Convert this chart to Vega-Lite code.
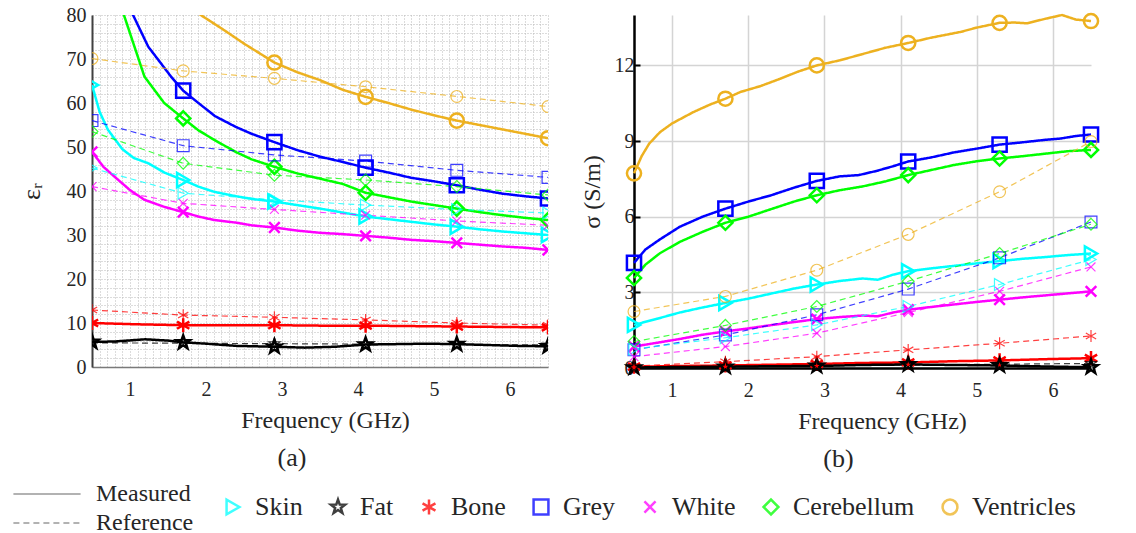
{
  "$schema": "https://vega.github.io/schema/vega-lite/v6.json",
  "padding": {"left": 18, "top": 5, "right": 5, "bottom": 5},
  "background": "white",
  "config": {
    "font": "Liberation Serif",
    "view": {"stroke": null},
    "axis": {"labelFont": "Liberation Serif", "titleFont": "Liberation Serif", "labelFontSize": 20, "titleFontSize": 24, "labelColor": "#262626", "titleColor": "#262626", "titleFontWeight": "normal"},
    "legend": {"labelFont": "Liberation Serif", "labelFontSize": 24, "labelColor": "#262626"},
    "title": {"font": "Liberation Serif"}
  },
  "datasets": {
    "perm": [
      {"tissue":"Ventricles","type":"Measured","f":0.5,"v":135},{"tissue":"Ventricles","type":"Measured","f":0.8,"v":115},{"tissue":"Ventricles","type":"Measured","f":1.1,"v":100},{"tissue":"Ventricles","type":"Measured","f":1.4,"v":90},{"tissue":"Ventricles","type":"Measured","f":1.7,"v":84},{"tissue":"Ventricles","type":"Measured","f":1.93,"v":80},{"tissue":"Ventricles","type":"Measured","f":2.2,"v":77},{"tissue":"Ventricles","type":"Measured","f":2.5,"v":73.5},{"tissue":"Ventricles","type":"Measured","f":2.9,"v":69.2},{"tissue":"Ventricles","type":"Measured","f":3.2,"v":67},{"tissue":"Ventricles","type":"Measured","f":3.5,"v":65.2},{"tissue":"Ventricles","type":"Measured","f":3.8,"v":63},{"tissue":"Ventricles","type":"Measured","f":4.1,"v":61.4},{"tissue":"Ventricles","type":"Measured","f":4.4,"v":60},{"tissue":"Ventricles","type":"Measured","f":4.7,"v":58.5},{"tissue":"Ventricles","type":"Measured","f":5.0,"v":57.2},{"tissue":"Ventricles","type":"Measured","f":5.3,"v":56},{"tissue":"Ventricles","type":"Measured","f":5.6,"v":55},{"tissue":"Ventricles","type":"Measured","f":5.9,"v":54},{"tissue":"Ventricles","type":"Measured","f":6.2,"v":53},{"tissue":"Ventricles","type":"Measured","f":6.5,"v":52},
      {"tissue":"Grey","type":"Measured","f":0.5,"v":115},{"tissue":"Grey","type":"Measured","f":0.7,"v":100},{"tissue":"Grey","type":"Measured","f":0.9,"v":86},{"tissue":"Grey","type":"Measured","f":1.04,"v":80},{"tissue":"Grey","type":"Measured","f":1.24,"v":72.8},{"tissue":"Grey","type":"Measured","f":1.54,"v":66},{"tissue":"Grey","type":"Measured","f":1.7,"v":62.8},{"tissue":"Grey","type":"Measured","f":1.9,"v":60},{"tissue":"Grey","type":"Measured","f":2.12,"v":57},{"tissue":"Grey","type":"Measured","f":2.4,"v":54.5},{"tissue":"Grey","type":"Measured","f":2.6,"v":53},{"tissue":"Grey","type":"Measured","f":2.9,"v":51.1},{"tissue":"Grey","type":"Measured","f":3.2,"v":49.3},{"tissue":"Grey","type":"Measured","f":3.5,"v":47.8},{"tissue":"Grey","type":"Measured","f":3.8,"v":46.6},{"tissue":"Grey","type":"Measured","f":4.1,"v":45.3},{"tissue":"Grey","type":"Measured","f":4.4,"v":44.2},{"tissue":"Grey","type":"Measured","f":4.7,"v":43},{"tissue":"Grey","type":"Measured","f":5.0,"v":42.2},{"tissue":"Grey","type":"Measured","f":5.3,"v":41.3},{"tissue":"Grey","type":"Measured","f":5.6,"v":40.3},{"tissue":"Grey","type":"Measured","f":5.9,"v":39.4},{"tissue":"Grey","type":"Measured","f":6.2,"v":38.8},{"tissue":"Grey","type":"Measured","f":6.5,"v":38.3},
      {"tissue":"Cerebellum","type":"Measured","f":0.5,"v":110},{"tissue":"Cerebellum","type":"Measured","f":0.7,"v":95},{"tissue":"Cerebellum","type":"Measured","f":0.92,"v":80},{"tissue":"Cerebellum","type":"Measured","f":1.19,"v":66},{"tissue":"Cerebellum","type":"Measured","f":1.45,"v":60},{"tissue":"Cerebellum","type":"Measured","f":1.7,"v":56.5},{"tissue":"Cerebellum","type":"Measured","f":1.9,"v":53.8},{"tissue":"Cerebellum","type":"Measured","f":2.11,"v":51.6},{"tissue":"Cerebellum","type":"Measured","f":2.4,"v":48.8},{"tissue":"Cerebellum","type":"Measured","f":2.6,"v":47.2},{"tissue":"Cerebellum","type":"Measured","f":2.9,"v":45.5},{"tissue":"Cerebellum","type":"Measured","f":3.2,"v":44},{"tissue":"Cerebellum","type":"Measured","f":3.5,"v":42.8},{"tissue":"Cerebellum","type":"Measured","f":3.8,"v":41.6},{"tissue":"Cerebellum","type":"Measured","f":4.1,"v":39.6},{"tissue":"Cerebellum","type":"Measured","f":4.4,"v":38.6},{"tissue":"Cerebellum","type":"Measured","f":4.7,"v":37.6},{"tissue":"Cerebellum","type":"Measured","f":5.0,"v":36.8},{"tissue":"Cerebellum","type":"Measured","f":5.3,"v":36},{"tissue":"Cerebellum","type":"Measured","f":5.6,"v":35.2},{"tissue":"Cerebellum","type":"Measured","f":5.9,"v":34.5},{"tissue":"Cerebellum","type":"Measured","f":6.2,"v":33.9},{"tissue":"Cerebellum","type":"Measured","f":6.5,"v":33.4},
      {"tissue":"Skin","type":"Measured","f":0.5,"v":64.1},{"tissue":"Skin","type":"Measured","f":0.6,"v":58},{"tissue":"Skin","type":"Measured","f":0.71,"v":53.9},{"tissue":"Skin","type":"Measured","f":0.9,"v":49.5},{"tissue":"Skin","type":"Measured","f":1.05,"v":47.5},{"tissue":"Skin","type":"Measured","f":1.24,"v":46.3},{"tissue":"Skin","type":"Measured","f":1.45,"v":44.2},{"tissue":"Skin","type":"Measured","f":1.7,"v":42.5},{"tissue":"Skin","type":"Measured","f":1.9,"v":41},{"tissue":"Skin","type":"Measured","f":2.11,"v":39.8},{"tissue":"Skin","type":"Measured","f":2.4,"v":38.8},{"tissue":"Skin","type":"Measured","f":2.6,"v":38.2},{"tissue":"Skin","type":"Measured","f":2.9,"v":37.6},{"tissue":"Skin","type":"Measured","f":3.2,"v":36.8},{"tissue":"Skin","type":"Measured","f":3.5,"v":36},{"tissue":"Skin","type":"Measured","f":3.8,"v":35.1},{"tissue":"Skin","type":"Measured","f":4.1,"v":34.2},{"tissue":"Skin","type":"Measured","f":4.4,"v":33.6},{"tissue":"Skin","type":"Measured","f":4.7,"v":33},{"tissue":"Skin","type":"Measured","f":5.0,"v":32.4},{"tissue":"Skin","type":"Measured","f":5.3,"v":31.9},{"tissue":"Skin","type":"Measured","f":5.6,"v":31.3},{"tissue":"Skin","type":"Measured","f":5.9,"v":30.8},{"tissue":"Skin","type":"Measured","f":6.2,"v":30.4},{"tissue":"Skin","type":"Measured","f":6.5,"v":30},
      {"tissue":"White","type":"Measured","f":0.5,"v":48.9},{"tissue":"White","type":"Measured","f":0.65,"v":45.5},{"tissue":"White","type":"Measured","f":0.8,"v":43.2},{"tissue":"White","type":"Measured","f":1.0,"v":40.2},{"tissue":"White","type":"Measured","f":1.19,"v":38},{"tissue":"White","type":"Measured","f":1.45,"v":36.4},{"tissue":"White","type":"Measured","f":1.7,"v":35.2},{"tissue":"White","type":"Measured","f":1.9,"v":34.2},{"tissue":"White","type":"Measured","f":2.11,"v":33.4},{"tissue":"White","type":"Measured","f":2.4,"v":32.8},{"tissue":"White","type":"Measured","f":2.6,"v":32.2},{"tissue":"White","type":"Measured","f":2.9,"v":31.7},{"tissue":"White","type":"Measured","f":3.2,"v":31},{"tissue":"White","type":"Measured","f":3.5,"v":30.5},{"tissue":"White","type":"Measured","f":3.8,"v":30.2},{"tissue":"White","type":"Measured","f":4.1,"v":29.8},{"tissue":"White","type":"Measured","f":4.4,"v":29.4},{"tissue":"White","type":"Measured","f":4.7,"v":28.9},{"tissue":"White","type":"Measured","f":5.0,"v":28.6},{"tissue":"White","type":"Measured","f":5.3,"v":28.2},{"tissue":"White","type":"Measured","f":5.6,"v":27.8},{"tissue":"White","type":"Measured","f":5.9,"v":27.4},{"tissue":"White","type":"Measured","f":6.2,"v":27.1},{"tissue":"White","type":"Measured","f":6.5,"v":26.6},
      {"tissue":"Bone","type":"Measured","f":0.5,"v":10},{"tissue":"Bone","type":"Measured","f":1.1,"v":9.7},{"tissue":"Bone","type":"Measured","f":1.7,"v":9.5},{"tissue":"Bone","type":"Measured","f":2.3,"v":9.5},{"tissue":"Bone","type":"Measured","f":2.9,"v":9.5},{"tissue":"Bone","type":"Measured","f":3.5,"v":9.4},{"tissue":"Bone","type":"Measured","f":4.1,"v":9.4},{"tissue":"Bone","type":"Measured","f":4.7,"v":9.3},{"tissue":"Bone","type":"Measured","f":5.3,"v":9.2},{"tissue":"Bone","type":"Measured","f":5.9,"v":9.1},{"tissue":"Bone","type":"Measured","f":6.5,"v":9.0},
      {"tissue":"Fat","type":"Measured","f":0.5,"v":5.7},{"tissue":"Fat","type":"Measured","f":0.8,"v":5.8},{"tissue":"Fat","type":"Measured","f":1.2,"v":6.3},{"tissue":"Fat","type":"Measured","f":1.5,"v":6.0},{"tissue":"Fat","type":"Measured","f":1.7,"v":5.6},{"tissue":"Fat","type":"Measured","f":2.0,"v":5.3},{"tissue":"Fat","type":"Measured","f":2.4,"v":4.8},{"tissue":"Fat","type":"Measured","f":2.9,"v":4.6},{"tissue":"Fat","type":"Measured","f":3.3,"v":4.4},{"tissue":"Fat","type":"Measured","f":3.7,"v":4.6},{"tissue":"Fat","type":"Measured","f":4.1,"v":5.1},{"tissue":"Fat","type":"Measured","f":4.5,"v":5.2},{"tissue":"Fat","type":"Measured","f":4.9,"v":5.3},{"tissue":"Fat","type":"Measured","f":5.3,"v":5.2},{"tissue":"Fat","type":"Measured","f":5.7,"v":5.0},{"tissue":"Fat","type":"Measured","f":6.1,"v":4.8},{"tissue":"Fat","type":"Measured","f":6.5,"v":4.7},
      {"tissue":"Skin","type":"Reference","f":0.5,"v":45.2},{"tissue":"Skin","type":"Reference","f":1.7,"v":39.5},{"tissue":"Skin","type":"Reference","f":2.9,"v":38},{"tissue":"Skin","type":"Reference","f":4.1,"v":36.8},{"tissue":"Skin","type":"Reference","f":5.3,"v":35.8},{"tissue":"Skin","type":"Reference","f":6.5,"v":35},
      {"tissue":"White","type":"Reference","f":0.5,"v":41},{"tissue":"White","type":"Reference","f":1.7,"v":37.2},{"tissue":"White","type":"Reference","f":2.9,"v":35.8},{"tissue":"White","type":"Reference","f":4.1,"v":34.5},{"tissue":"White","type":"Reference","f":5.3,"v":33.2},{"tissue":"White","type":"Reference","f":6.5,"v":32.2},
      {"tissue":"Grey","type":"Reference","f":0.5,"v":56},{"tissue":"Grey","type":"Reference","f":1.7,"v":50.3},{"tissue":"Grey","type":"Reference","f":2.9,"v":48.2},{"tissue":"Grey","type":"Reference","f":4.1,"v":46.8},{"tissue":"Grey","type":"Reference","f":5.3,"v":44.7},{"tissue":"Grey","type":"Reference","f":6.5,"v":43.1},
      {"tissue":"Cerebellum","type":"Reference","f":0.5,"v":53.5},{"tissue":"Cerebellum","type":"Reference","f":1.7,"v":46.3},{"tissue":"Cerebellum","type":"Reference","f":2.9,"v":43.6},{"tissue":"Cerebellum","type":"Reference","f":4.1,"v":42.5},{"tissue":"Cerebellum","type":"Reference","f":5.3,"v":41},{"tissue":"Cerebellum","type":"Reference","f":6.5,"v":39.1},
      {"tissue":"Ventricles","type":"Reference","f":0.5,"v":70.1},{"tissue":"Ventricles","type":"Reference","f":1.7,"v":67.3},{"tissue":"Ventricles","type":"Reference","f":2.9,"v":65.6},{"tissue":"Ventricles","type":"Reference","f":4.1,"v":63.7},{"tissue":"Ventricles","type":"Reference","f":5.3,"v":61.5},{"tissue":"Ventricles","type":"Reference","f":6.5,"v":59.2},
      {"tissue":"Bone","type":"Reference","f":0.5,"v":12.95},{"tissue":"Bone","type":"Reference","f":1.7,"v":11.8},{"tissue":"Bone","type":"Reference","f":2.9,"v":11.3},{"tissue":"Bone","type":"Reference","f":4.1,"v":10.7},{"tissue":"Bone","type":"Reference","f":5.3,"v":10.0},{"tissue":"Bone","type":"Reference","f":6.5,"v":9.5},
      {"tissue":"Fat","type":"Reference","f":0.5,"v":5.5},{"tissue":"Fat","type":"Reference","f":1.7,"v":5.4},{"tissue":"Fat","type":"Reference","f":2.9,"v":5.3},{"tissue":"Fat","type":"Reference","f":4.1,"v":5.2},{"tissue":"Fat","type":"Reference","f":5.3,"v":5.1},{"tissue":"Fat","type":"Reference","f":6.5,"v":5.0}
    ],
    "cond": [
      {"tissue":"Ventricles","type":"Measured","f":0.5,"v":7.72},{"tissue":"Ventricles","type":"Measured","f":0.6,"v":8.4},{"tissue":"Ventricles","type":"Measured","f":0.7,"v":8.9},{"tissue":"Ventricles","type":"Measured","f":0.84,"v":9.35},{"tissue":"Ventricles","type":"Measured","f":1.0,"v":9.7},{"tissue":"Ventricles","type":"Measured","f":1.28,"v":10.15},{"tissue":"Ventricles","type":"Measured","f":1.5,"v":10.45},{"tissue":"Ventricles","type":"Measured","f":1.7,"v":10.68},{"tissue":"Ventricles","type":"Measured","f":1.9,"v":10.95},{"tissue":"Ventricles","type":"Measured","f":2.16,"v":11.18},{"tissue":"Ventricles","type":"Measured","f":2.4,"v":11.45},{"tissue":"Ventricles","type":"Measured","f":2.65,"v":11.75},{"tissue":"Ventricles","type":"Measured","f":2.9,"v":12.0},{"tissue":"Ventricles","type":"Measured","f":3.2,"v":12.2},{"tissue":"Ventricles","type":"Measured","f":3.5,"v":12.45},{"tissue":"Ventricles","type":"Measured","f":3.8,"v":12.7},{"tissue":"Ventricles","type":"Measured","f":4.1,"v":12.89},{"tissue":"Ventricles","type":"Measured","f":4.4,"v":13.1},{"tissue":"Ventricles","type":"Measured","f":4.79,"v":13.33},{"tissue":"Ventricles","type":"Measured","f":5.0,"v":13.5},{"tissue":"Ventricles","type":"Measured","f":5.3,"v":13.69},{"tissue":"Ventricles","type":"Measured","f":5.5,"v":13.7},{"tissue":"Ventricles","type":"Measured","f":5.66,"v":13.67},{"tissue":"Ventricles","type":"Measured","f":5.9,"v":13.85},{"tissue":"Ventricles","type":"Measured","f":6.12,"v":14.0},{"tissue":"Ventricles","type":"Measured","f":6.3,"v":13.82},{"tissue":"Ventricles","type":"Measured","f":6.5,"v":13.76},
      {"tissue":"Grey","type":"Measured","f":0.5,"v":4.17},{"tissue":"Grey","type":"Measured","f":0.65,"v":4.7},{"tissue":"Grey","type":"Measured","f":0.84,"v":5.1},{"tissue":"Grey","type":"Measured","f":1.1,"v":5.6},{"tissue":"Grey","type":"Measured","f":1.4,"v":6.0},{"tissue":"Grey","type":"Measured","f":1.7,"v":6.32},{"tissue":"Grey","type":"Measured","f":2.0,"v":6.6},{"tissue":"Grey","type":"Measured","f":2.3,"v":6.85},{"tissue":"Grey","type":"Measured","f":2.6,"v":7.15},{"tissue":"Grey","type":"Measured","f":2.9,"v":7.42},{"tissue":"Grey","type":"Measured","f":3.2,"v":7.6},{"tissue":"Grey","type":"Measured","f":3.45,"v":7.65},{"tissue":"Grey","type":"Measured","f":3.69,"v":7.82},{"tissue":"Grey","type":"Measured","f":3.9,"v":8.0},{"tissue":"Grey","type":"Measured","f":4.1,"v":8.19},{"tissue":"Grey","type":"Measured","f":4.4,"v":8.35},{"tissue":"Grey","type":"Measured","f":4.7,"v":8.55},{"tissue":"Grey","type":"Measured","f":5.0,"v":8.7},{"tissue":"Grey","type":"Measured","f":5.3,"v":8.86},{"tissue":"Grey","type":"Measured","f":5.6,"v":8.95},{"tissue":"Grey","type":"Measured","f":5.9,"v":9.05},{"tissue":"Grey","type":"Measured","f":6.1,"v":9.1},{"tissue":"Grey","type":"Measured","f":6.3,"v":9.2},{"tissue":"Grey","type":"Measured","f":6.5,"v":9.26},
      {"tissue":"Cerebellum","type":"Measured","f":0.5,"v":3.57},{"tissue":"Cerebellum","type":"Measured","f":0.65,"v":4.1},{"tissue":"Cerebellum","type":"Measured","f":0.84,"v":4.55},{"tissue":"Cerebellum","type":"Measured","f":1.1,"v":5.0},{"tissue":"Cerebellum","type":"Measured","f":1.4,"v":5.4},{"tissue":"Cerebellum","type":"Measured","f":1.7,"v":5.76},{"tissue":"Cerebellum","type":"Measured","f":2.0,"v":6.0},{"tissue":"Cerebellum","type":"Measured","f":2.3,"v":6.3},{"tissue":"Cerebellum","type":"Measured","f":2.6,"v":6.6},{"tissue":"Cerebellum","type":"Measured","f":2.9,"v":6.85},{"tissue":"Cerebellum","type":"Measured","f":3.2,"v":7.05},{"tissue":"Cerebellum","type":"Measured","f":3.5,"v":7.2},{"tissue":"Cerebellum","type":"Measured","f":3.8,"v":7.4},{"tissue":"Cerebellum","type":"Measured","f":4.1,"v":7.65},{"tissue":"Cerebellum","type":"Measured","f":4.4,"v":7.85},{"tissue":"Cerebellum","type":"Measured","f":4.7,"v":8.05},{"tissue":"Cerebellum","type":"Measured","f":5.0,"v":8.2},{"tissue":"Cerebellum","type":"Measured","f":5.3,"v":8.31},{"tissue":"Cerebellum","type":"Measured","f":5.6,"v":8.4},{"tissue":"Cerebellum","type":"Measured","f":5.9,"v":8.5},{"tissue":"Cerebellum","type":"Measured","f":6.2,"v":8.6},{"tissue":"Cerebellum","type":"Measured","f":6.5,"v":8.65},
      {"tissue":"Skin","type":"Measured","f":0.5,"v":1.71},{"tissue":"Skin","type":"Measured","f":0.8,"v":1.95},{"tissue":"Skin","type":"Measured","f":1.1,"v":2.2},{"tissue":"Skin","type":"Measured","f":1.4,"v":2.4},{"tissue":"Skin","type":"Measured","f":1.7,"v":2.58},{"tissue":"Skin","type":"Measured","f":2.0,"v":2.75},{"tissue":"Skin","type":"Measured","f":2.3,"v":2.95},{"tissue":"Skin","type":"Measured","f":2.6,"v":3.15},{"tissue":"Skin","type":"Measured","f":2.9,"v":3.31},{"tissue":"Skin","type":"Measured","f":3.2,"v":3.45},{"tissue":"Skin","type":"Measured","f":3.5,"v":3.55},{"tissue":"Skin","type":"Measured","f":3.7,"v":3.5},{"tissue":"Skin","type":"Measured","f":3.9,"v":3.7},{"tissue":"Skin","type":"Measured","f":4.1,"v":3.84},{"tissue":"Skin","type":"Measured","f":4.4,"v":3.95},{"tissue":"Skin","type":"Measured","f":4.7,"v":4.05},{"tissue":"Skin","type":"Measured","f":5.0,"v":4.15},{"tissue":"Skin","type":"Measured","f":5.3,"v":4.24},{"tissue":"Skin","type":"Measured","f":5.6,"v":4.33},{"tissue":"Skin","type":"Measured","f":5.9,"v":4.4},{"tissue":"Skin","type":"Measured","f":6.2,"v":4.48},{"tissue":"Skin","type":"Measured","f":6.5,"v":4.54},
      {"tissue":"White","type":"Measured","f":0.5,"v":0.85},{"tissue":"White","type":"Measured","f":0.8,"v":1.0},{"tissue":"White","type":"Measured","f":1.1,"v":1.15},{"tissue":"White","type":"Measured","f":1.4,"v":1.32},{"tissue":"White","type":"Measured","f":1.7,"v":1.45},{"tissue":"White","type":"Measured","f":2.0,"v":1.57},{"tissue":"White","type":"Measured","f":2.3,"v":1.7},{"tissue":"White","type":"Measured","f":2.6,"v":1.82},{"tissue":"White","type":"Measured","f":2.9,"v":1.94},{"tissue":"White","type":"Measured","f":3.2,"v":2.02},{"tissue":"White","type":"Measured","f":3.5,"v":2.08},{"tissue":"White","type":"Measured","f":3.7,"v":2.05},{"tissue":"White","type":"Measured","f":3.9,"v":2.2},{"tissue":"White","type":"Measured","f":4.1,"v":2.31},{"tissue":"White","type":"Measured","f":4.4,"v":2.42},{"tissue":"White","type":"Measured","f":4.7,"v":2.52},{"tissue":"White","type":"Measured","f":5.0,"v":2.62},{"tissue":"White","type":"Measured","f":5.3,"v":2.71},{"tissue":"White","type":"Measured","f":5.6,"v":2.8},{"tissue":"White","type":"Measured","f":5.9,"v":2.88},{"tissue":"White","type":"Measured","f":6.2,"v":2.96},{"tissue":"White","type":"Measured","f":6.5,"v":3.04},
      {"tissue":"Bone","type":"Measured","f":0.5,"v":0.05},{"tissue":"Bone","type":"Measured","f":1.1,"v":0.08},{"tissue":"Bone","type":"Measured","f":1.7,"v":0.1},{"tissue":"Bone","type":"Measured","f":2.3,"v":0.13},{"tissue":"Bone","type":"Measured","f":2.9,"v":0.16},{"tissue":"Bone","type":"Measured","f":3.5,"v":0.2},{"tissue":"Bone","type":"Measured","f":4.1,"v":0.22},{"tissue":"Bone","type":"Measured","f":4.7,"v":0.27},{"tissue":"Bone","type":"Measured","f":5.3,"v":0.3},{"tissue":"Bone","type":"Measured","f":5.9,"v":0.35},{"tissue":"Bone","type":"Measured","f":6.5,"v":0.39},
      {"tissue":"Fat","type":"Measured","f":0.5,"v":0.02},{"tissue":"Fat","type":"Measured","f":1.1,"v":0.04},{"tissue":"Fat","type":"Measured","f":1.7,"v":0.05},{"tissue":"Fat","type":"Measured","f":2.3,"v":0.07},{"tissue":"Fat","type":"Measured","f":2.9,"v":0.08},{"tissue":"Fat","type":"Measured","f":3.5,"v":0.12},{"tissue":"Fat","type":"Measured","f":4.1,"v":0.14},{"tissue":"Fat","type":"Measured","f":4.7,"v":0.12},{"tissue":"Fat","type":"Measured","f":5.3,"v":0.1},{"tissue":"Fat","type":"Measured","f":5.9,"v":0.06},{"tissue":"Fat","type":"Measured","f":6.5,"v":0.03},
      {"tissue":"Ventricles","type":"Reference","f":0.5,"v":2.24},{"tissue":"Ventricles","type":"Reference","f":1.7,"v":2.84},{"tissue":"Ventricles","type":"Reference","f":2.9,"v":3.88},{"tissue":"Ventricles","type":"Reference","f":4.1,"v":5.3},{"tissue":"Ventricles","type":"Reference","f":5.3,"v":6.99},{"tissue":"Ventricles","type":"Reference","f":6.5,"v":8.98},
      {"tissue":"Grey","type":"Reference","f":0.5,"v":0.72},{"tissue":"Grey","type":"Reference","f":1.7,"v":1.31},{"tissue":"Grey","type":"Reference","f":2.9,"v":2.11},{"tissue":"Grey","type":"Reference","f":4.1,"v":3.13},{"tissue":"Grey","type":"Reference","f":5.3,"v":4.37},{"tissue":"Grey","type":"Reference","f":6.5,"v":5.79},
      {"tissue":"Cerebellum","type":"Reference","f":0.5,"v":1.05},{"tissue":"Cerebellum","type":"Reference","f":1.7,"v":1.69},{"tissue":"Cerebellum","type":"Reference","f":2.9,"v":2.44},{"tissue":"Cerebellum","type":"Reference","f":4.1,"v":3.44},{"tissue":"Cerebellum","type":"Reference","f":5.3,"v":4.54},{"tissue":"Cerebellum","type":"Reference","f":6.5,"v":5.7},
      {"tissue":"Skin","type":"Reference","f":0.5,"v":0.75},{"tissue":"Skin","type":"Reference","f":1.7,"v":1.2},{"tissue":"Skin","type":"Reference","f":2.9,"v":1.71},{"tissue":"Skin","type":"Reference","f":4.1,"v":2.44},{"tissue":"Skin","type":"Reference","f":5.3,"v":3.31},{"tissue":"Skin","type":"Reference","f":6.5,"v":4.3},
      {"tissue":"White","type":"Reference","f":0.5,"v":0.45},{"tissue":"White","type":"Reference","f":1.7,"v":0.85},{"tissue":"White","type":"Reference","f":2.9,"v":1.38},{"tissue":"White","type":"Reference","f":4.1,"v":2.2},{"tissue":"White","type":"Reference","f":5.3,"v":3.04},{"tissue":"White","type":"Reference","f":6.5,"v":4.01},
      {"tissue":"Bone","type":"Reference","f":0.5,"v":0.08},{"tissue":"Bone","type":"Reference","f":1.7,"v":0.25},{"tissue":"Bone","type":"Reference","f":2.9,"v":0.45},{"tissue":"Bone","type":"Reference","f":4.1,"v":0.72},{"tissue":"Bone","type":"Reference","f":5.3,"v":0.98},{"tissue":"Bone","type":"Reference","f":6.5,"v":1.27},
      {"tissue":"Fat","type":"Reference","f":0.5,"v":0.03},{"tissue":"Fat","type":"Reference","f":1.7,"v":0.06},{"tissue":"Fat","type":"Reference","f":2.9,"v":0.09},{"tissue":"Fat","type":"Reference","f":4.1,"v":0.12},{"tissue":"Fat","type":"Reference","f":5.3,"v":0.15},{"tissue":"Fat","type":"Reference","f":6.5,"v":0.18}
    ]
  },
  "spacing": 32,
  "hconcat": [
    {
      "width": 456, "height": 352,
      "data": {"name": "perm"},
      "title": {"text": "(a)", "orient": "bottom", "font": "Liberation Serif", "fontSize": 26, "fontWeight": "normal", "color": "#262626", "dx": -28, "offset": 13},
      "layer": [
        {
          "transform": [{"filter": "datum.type == 'Measured'"}],
          "mark": {"type": "line", "clip": true, "strokeWidth": 2.5},
          "encoding": {
            "x": {"field": "f", "type": "quantitative", "scale": {"domain": [0.5, 6.5], "nice": false, "zero": false},
              "axis": {"title": "Frequency (GHz)", "titleFont": "Liberation Serif", "labelFont": "Liberation Serif", "titleFontSize": 24, "titleX": 233, "titlePadding": 9, "tickCount": 200, "values": [0.5,0.6,0.7,0.8,0.9,1,1.1,1.2,1.3,1.4,1.5,1.6,1.7,1.8,1.9,2,2.1,2.2,2.3,2.4,2.5,2.6,2.7,2.8,2.9,3,3.1,3.2,3.3,3.4,3.5,3.6,3.7,3.8,3.9,4,4.1,4.2,4.3,4.4,4.5,4.6,4.7,4.8,4.9,5,5.1,5.2,5.3,5.4,5.5,5.6,5.7,5.8,5.9,6,6.1,6.2,6.3,6.4,6.5],
                "labelExpr": "abs(datum.value - round(datum.value)) < 0.001 ? format(round(datum.value), 'd') : ''", "labelOverlap": false, "labelFlush": false, "ticks": false, "labelPadding": 12,
                "grid": true, "gridDash": [1, 2], "gridColor": "#b8b8b8", "gridWidth": 1, "domainColor": "#7a7a7a", "domainWidth": 1.5}},
            "y": {"field": "v", "type": "quantitative", "scale": {"domain": [0, 80], "nice": false},
              "axis": {"title": "εᵣ", "titleFont": "Liberation Serif", "labelFont": "Liberation Serif", "titleFontSize": 26, "titlePadding": 22, "tickCount": 200, "values": [0,2,4,6,8,10,12,14,16,18,20,22,24,26,28,30,32,34,36,38,40,42,44,46,48,50,52,54,56,58,60,62,64,66,68,70,72,74,76,78,80],
                "labelExpr": "datum.value % 10 == 0 ? format(datum.value, 'd') : ''", "labelOverlap": false, "labelFlush": false, "ticks": false, "labelPadding": 6,
                "grid": true, "gridDash": [1, 2], "gridColor": "#b8b8b8", "gridWidth": 1, "domainColor": "#404040", "domainWidth": 2}},
            "color": {"field": "tissue", "type": "nominal",
              "scale": {"domain": ["Skin","Fat","Bone","Grey","White","Cerebellum","Ventricles"], "range": ["#00FFFF","#000000","#FF0000","#0000FF","#FF00FF","#00FF00","#EDB120"]},
              "legend": {"title": null, "orient": "none", "legendX": 128, "legendY": 479, "direction": "horizontal", "columns": 7, "columnPadding": 22, "symbolSize": 220, "symbolStrokeWidth": 2.5, "symbolOpacity": 1, "labelOffset": 9, "labelFont": "Liberation Serif", "labelFontSize": 26}},
            "strokeDash": {"field": "type", "type": "nominal", "scale": {"domain": ["Measured","Reference"], "range": [[1,0],[6,4]]},
              "legend": {"title": null, "orient": "none", "legendX": -57, "legendY": 467, "direction": "vertical", "symbolType": "M-5.6,0L5.6,0", "symbolSize": 144, "symbolStrokeColor": "#999999", "symbolStrokeWidth": 2, "rowPadding": 5, "labelOffset": 37, "labelFont": "Liberation Serif", "labelFontSize": 24}}
          }
        },
        {
          "transform": [{"filter": "datum.type == 'Reference'"}],
          "mark": {"type": "line", "clip": true, "strokeWidth": 1.2, "opacity": 0.75},
          "encoding": {
            "x": {"field": "f", "type": "quantitative"},
            "y": {"field": "v", "type": "quantitative"},
            "color": {"field": "tissue", "type": "nominal"},
            "strokeDash": {"field": "type", "type": "nominal"}
          }
        },
        {
          "transform": [{"filter": {"field": "f", "oneOf": [0.5, 1.7, 2.9, 4.1, 5.3, 6.5]}}, {"filter": "datum.type == 'Measured'"}],
          "mark": {"type": "point", "filled": false, "clip": true, "size": 200, "strokeWidth": 2.5, "opacity": 1},
          "encoding": {
            "x": {"field": "f", "type": "quantitative"},
            "y": {"field": "v", "type": "quantitative"},
            "color": {"field": "tissue", "type": "nominal"},
            "shape": {"field": "tissue", "type": "nominal", "scale": {"domain": ["Skin","Fat","Bone","Grey","White","Cerebellum","Ventricles"], "range": ["triangle-right","M0,-1L0.235,-0.324L0.951,-0.309L0.38,0.124L0.588,0.809L0,0.4L-0.588,0.809L-0.38,0.124L-0.951,-0.309L-0.235,-0.324Z","M0,-1L0,1M-0.87,-0.5L0.87,0.5M-0.87,0.5L0.87,-0.5","square","M-0.75,-0.75L0.75,0.75M-0.75,0.75L0.75,-0.75","diamond","circle"]},
              "legend": {"title": null, "orient": "none", "legendX": 128, "legendY": 479, "direction": "horizontal", "columns": 7, "columnPadding": 22, "symbolSize": 220, "symbolStrokeWidth": 2.5, "symbolOpacity": 1, "labelOffset": 9, "labelFont": "Liberation Serif", "labelFontSize": 26}}
          }
        },
        {
          "transform": [{"filter": {"field": "f", "oneOf": [0.5, 1.7, 2.9, 4.1, 5.3, 6.5]}}, {"filter": "datum.type == 'Reference'"}],
          "mark": {"type": "point", "filled": false, "clip": true, "size": 140, "strokeWidth": 1.2, "opacity": 0.75},
          "encoding": {
            "x": {"field": "f", "type": "quantitative"},
            "y": {"field": "v", "type": "quantitative"},
            "color": {"field": "tissue", "type": "nominal"},
            "shape": {"field": "tissue", "type": "nominal"}
          }
        }
      ]
    },
    {
      "width": 457, "height": 353,
      "data": {"name": "cond"},
      "title": {"text": "(b)", "orient": "bottom", "font": "Liberation Serif", "fontSize": 26, "fontWeight": "normal", "color": "#262626", "dx": -24, "offset": 13},
      "layer": [
        {
          "transform": [{"filter": "datum.type == 'Measured'"}],
          "mark": {"type": "line", "strokeWidth": 2.5},
          "encoding": {
            "x": {"field": "f", "type": "quantitative", "scale": {"domain": [0.5, 6.5], "nice": false, "zero": false},
              "axis": {"title": "Frequency (GHz)", "titleFont": "Liberation Serif", "labelFont": "Liberation Serif", "titleFontSize": 24, "titleX": 248, "titlePadding": 9, "values": [1,2,3,4,5,6], "format": "d", "ticks": false, "labelPadding": 12,
                "grid": true, "gridColor": "#d4d4d4", "gridWidth": 1.5, "domainColor": "#000000", "domainWidth": 2.5}},
            "y": {"field": "v", "type": "quantitative", "scale": {"domain": [0, 14], "nice": false},
              "axis": {"title": "σ (S/m)", "titleFont": "Liberation Serif", "labelFont": "Liberation Serif", "titleFontSize": 24, "titlePadding": 10, "values": [0,3,6,9,12], "format": "d", "ticks": true, "tickSize": -6, "tickColor": "#000000", "tickWidth": 2, "labelPadding": 6,
                "grid": true, "gridColor": "#d4d4d4", "gridWidth": 1.5, "domainColor": "#000000", "domainWidth": 2.5}},
            "color": {"field": "tissue", "type": "nominal"},
            "strokeDash": {"field": "type", "type": "nominal"}
          }
        },
        {
          "transform": [{"filter": "datum.type == 'Reference'"}],
          "mark": {"type": "line", "strokeWidth": 1.2, "opacity": 0.75},
          "encoding": {
            "x": {"field": "f", "type": "quantitative"},
            "y": {"field": "v", "type": "quantitative"},
            "color": {"field": "tissue", "type": "nominal"},
            "strokeDash": {"field": "type", "type": "nominal"}
          }
        },
        {
          "transform": [{"filter": {"field": "f", "oneOf": [0.5, 1.7, 2.9, 4.1, 5.3, 6.5]}}, {"filter": "datum.type == 'Measured'"}],
          "mark": {"type": "point", "filled": false, "size": 200, "strokeWidth": 2.5, "opacity": 1},
          "encoding": {
            "x": {"field": "f", "type": "quantitative"},
            "y": {"field": "v", "type": "quantitative"},
            "color": {"field": "tissue", "type": "nominal"},
            "shape": {"field": "tissue", "type": "nominal"}
          }
        },
        {
          "transform": [{"filter": {"field": "f", "oneOf": [0.5, 1.7, 2.9, 4.1, 5.3, 6.5]}}, {"filter": "datum.type == 'Reference'"}],
          "mark": {"type": "point", "filled": false, "size": 140, "strokeWidth": 1.2, "opacity": 0.75},
          "encoding": {
            "x": {"field": "f", "type": "quantitative"},
            "y": {"field": "v", "type": "quantitative"},
            "color": {"field": "tissue", "type": "nominal"},
            "shape": {"field": "tissue", "type": "nominal"}
          }
        }
      ]
    }
  ]
}
